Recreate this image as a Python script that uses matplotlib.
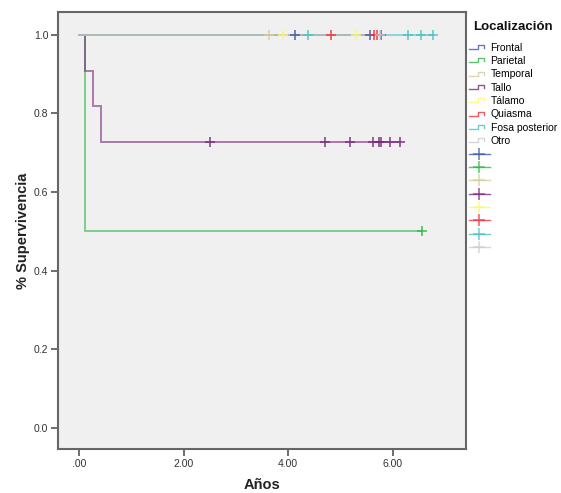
import numpy as np
import matplotlib
matplotlib.use("Agg")
import matplotlib.pyplot as plt
from matplotlib.lines import Line2D
from matplotlib.legend_handler import HandlerBase

plt.rcParams['font.family'] = ['Liberation Sans', 'DejaVu Sans']

groups = ['Frontal', 'Parietal', 'Temporal', 'Tallo', 'Tálamo', 'Quiasma',
          'Fosa posterior', 'Otro']
colors = ['#3E58AC', '#2EB848', '#D3CE97', '#7C287D', '#FBF873', '#EF3338',
          '#48C2C5', '#CCCCCC']

# (time in years, event: 1 = death, 0 = censored)
frontal_t = [4.14, 5.56, 5.77]
frontal_e = [0, 0, 0]
parietal_t = [0.12, 6.55]
parietal_e = [1, 0]
temporal_t = [3.63]
temporal_e = [0]
tallo_t = [0.12, 0.26, 0.43, 2.50, 4.70, 5.18, 5.63, 5.74, 5.77, 5.95, 6.14]
tallo_e = [1, 1, 1, 0, 0, 0, 0, 0, 0, 0, 0]
talamo_t = [3.91, 5.30]
talamo_e = [0, 0]
quiasma_t = [4.82, 5.65, 5.70]
quiasma_e = [0, 0, 0]
fosa_t = [4.38, 6.30, 6.53, 6.76]
fosa_e = [0, 0, 0, 0]
otro_t = [5.75]
otro_e = [0]

data_t = [frontal_t, parietal_t, temporal_t, tallo_t, talamo_t, quiasma_t, fosa_t, otro_t]
data_e = [frontal_e, parietal_e, temporal_e, tallo_e, talamo_e, quiasma_e, fosa_e, otro_e]

xticks = [0, 2, 4, 6]
xticklabels = ['.00', '2.00', '4.00', '6.00']
yticks = [0.0, 0.2, 0.4, 0.6, 0.8, 1.0]


def kaplan_meier(times, events):
    order = np.argsort(times, kind='stable')
    t = np.array(times)[order]
    e = np.array(events)[order]
    n = len(t)
    s = 1.0
    xs, ys = [0.0], [1.0]
    cens_x, cens_y = [], []
    for i, (ti, ei) in enumerate(zip(t, e)):
        at_risk = n - i
        if ei == 1:
            xs.append(ti); ys.append(s)
            s = s * (1 - 1.0 / at_risk)
            xs.append(ti); ys.append(s)
        else:
            cens_x.append(ti); cens_y.append(s)
    xs.append(t[-1]); ys.append(s)
    return xs, ys, cens_x, cens_y


class StepHandler(HandlerBase):
    def create_artists(self, legend, orig_handle, xdescent, ydescent,
                       width, height, fontsize, trans):
        x0 = -xdescent
        y0 = -ydescent
        xs = [x0, x0 + width * 0.45, x0 + width * 0.45, x0 + width * 0.75, x0 + width * 0.75]
        ys = [y0 + height * 0.2, y0 + height * 0.2, y0 + height * 0.75, y0 + height * 0.75, y0 + height * 0.35]
        ln = Line2D(xs, ys, color=orig_handle.get_color(), lw=1.0, alpha=0.8)
        ln.set_transform(trans)
        return [ln]


fig = plt.figure(figsize=(5.61, 4.93), dpi=100)
ax = fig.add_axes([0.1034, 0.0892, 0.7273, 0.8865])
ax.set_facecolor('#F0F0F0')

for g, c, t, e in zip(groups, colors, data_t, data_e):
    xs, ys, cx, cy = kaplan_meier(t, e)
    ax.plot(xs, ys, color=c, lw=1.4, alpha=0.6, solid_joinstyle='miter')
for g, c, t, e in zip(groups, colors, data_t, data_e):
    xs, ys, cx, cy = kaplan_meier(t, e)
    ax.plot(cx, cy, linestyle='none', marker='+', color=c, markersize=7,
            markeredgewidth=1.2, alpha=0.85)

ax.set_xlim(-0.40, 7.40)
ax.set_ylim(-0.053, 1.058)
ax.set_xticks(xticks)
ax.set_xticklabels(xticklabels)
ax.set_yticks(yticks)
ax.set_yticklabels([f'{v:.1f}' for v in yticks])
ax.tick_params(axis='both', direction='out', length=5, width=1.2, color='#555555',
               labelsize=7.5, labelcolor='#333333', pad=2)
for sp in ax.spines.values():
    sp.set_color('#666666')
    sp.set_linewidth(1.5)

ax.set_xlabel('Años', fontsize=10.5, fontweight='bold', color='#222222', labelpad=7)
ax.set_ylabel('% Supervivencia', fontsize=10.5, fontweight='bold', color='#222222', labelpad=3)

handles = []
labels = []
for g, c in zip(groups, colors):
    handles.append(Line2D([], [], color=c))
    labels.append(g)
marker_handles = []
for c in colors:
    marker_handles.append(Line2D([], [], color=c, marker='+', linestyle='-', lw=1.0,
                                 markersize=9, markeredgewidth=1.1, alpha=0.8))
    labels.append('')
handler_map = {h: StepHandler() for h in handles}
fig.text(0.843, 0.945, 'Localización', fontsize=9.5, fontweight='bold',
         color='#111111', va='center', ha='left')
leg = fig.legend(handles + marker_handles, labels, handler_map=handler_map,
                 loc='upper left', bbox_to_anchor=(0.828, 0.922),
                 frameon=False, fontsize=7.5,
                 handlelength=2.0, handletextpad=0.1, labelspacing=0.32,
                 borderaxespad=0)

fig.savefig('out.png', dpi=100, facecolor='white')
